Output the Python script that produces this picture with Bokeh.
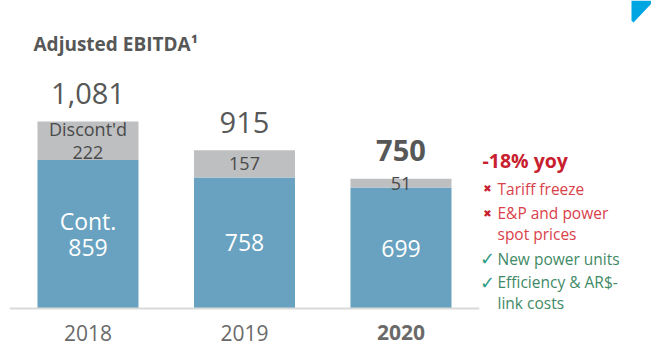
from bokeh.plotting import figure
from bokeh.models import ColumnDataSource, Range1d, Label, PolyAnnotation
from bokeh.core.properties import value
from bokeh.embed import file_html
from bokeh.resources import INLINE

# ---- data ----
years = ["2018", "2019", "2020"]
continuing = [859, 758, 699]
discontinued = [222, 157, 51]
totals = [1081, 915, 750]
cont_labels = ["Cont.\n859", "758", "699"]
disc_labels = ["Discont'd\n222", "157", "51"]
total_labels = ["1,081", "915", "750"]
year_styles = ["normal", "normal", "bold"]
total_styles = ["normal", "normal", "bold"]

FONT = "Open Sans"
BLUE = "#68A2C0"
GRAY = "#BEBFC1"
TXT = "#575757"
RED = "#C8202F"
RED_L = "#D9414B"
GREEN = "#3F8A66"

W, H = 651, 351
px_per_unit = 187.0 / 1081.0
y0_px = 308  # baseline pixel from top
y_start = -(H - y0_px) / px_per_unit
y_end = y0_px / px_per_unit

p = figure(width=W, height=H, output_backend="svg", toolbar_location=None,
           x_range=Range1d(-0.559, -0.559 + W / 156.5),
           y_range=Range1d(y_start, y_end),
           min_border=0, outline_line_color=None)
p.axis.visible = False
p.grid.visible = False
p.background_fill_color = "white"
p.border_fill_color = "white"

xs = list(range(len(years)))
src = ColumnDataSource(dict(
    x=xs, year=years, cont=continuing, disc=discontinued, total=totals,
    cont_mid=[c / 2 for c in continuing],
    disc_mid=[c + d / 2 for c, d in zip(continuing, discontinued)],
    cont_lab=cont_labels, disc_lab=disc_labels, tot_lab=total_labels,
    ystyle=year_styles, tstyle=total_styles,
    zero=[0] * len(years),
))

bw = 101 / 156.5
p.vbar(x="x", bottom="zero", top="cont", width=bw, source=src,
       fill_color=BLUE, line_color=None)
p.vbar(x="x", bottom="cont", top="total", width=bw, source=src,
       fill_color=GRAY, line_color=None)

# baseline
p.segment(x0=[-0.5], y0=[0], x1=[len(years) - 0.5], y1=[0],
          line_color="#DADADA", line_width=2)

# labels inside bars
p.text(x="x", y="cont_mid", text="cont_lab", source=src,
       text_font=value(FONT), text_font_size="23px", text_color="white",
       text_align="center", text_baseline="middle", text_line_height=0.81)
p.text(x="x", y="disc_mid", text="disc_lab", source=src,
       text_font=value(FONT), text_font_size="18px", text_color="#4A4A4A",
       text_align="center", text_baseline="middle", text_line_height=0.97)

# totals above bars
p.text(x="x", y="total", text="tot_lab", source=src, y_offset=-28,
       text_font=value(FONT), text_font_size="29px", text_color=TXT,
       text_font_style="tstyle",
       text_align="center", text_baseline="middle")

# year labels
p.text(x="x", y="zero", text="year", source=src, y_offset=24,
       text_font=value(FONT), text_font_size="21px", text_color="#6A6A6A",
       text_font_style="ystyle",
       text_align="center", text_baseline="middle")

# title
p.add_layout(Label(x=33, y=H - 43, x_units="screen", y_units="screen",
                   text="Adjusted EBITDA¹", text_font=FONT,
                   text_font_size="19px", text_font_style="bold",
                   text_color=TXT, text_baseline="middle"))

# right-hand commentary
p.add_layout(Label(x=482, y=H - 160, x_units="screen", y_units="screen",
                   text="-18% yoy", text_font=FONT, text_font_size="19.5px",
                   text_font_style="bold", text_color=RED,
                   text_baseline="middle"))

items = [
    ("✖", RED, RED_L, "Tariff freeze", 188),
    ("✖", RED, RED_L, "E&P and power\nspot prices", 223),
    ("✓", "#2E9C86", GREEN, "New power units", 258),
    ("✓", "#2E9C86", GREEN, "Efficiency & AR$-\nlink costs", 292),
]
for mark, mcol, tcol, txt, py in items:
    nlines = txt.count("\n") + 1
    top = py - (nlines - 1) * 10
    p.add_layout(Label(x=487, y=H - top, x_units="screen", y_units="screen",
                       text=mark, text_font="DejaVu Sans",
                       text_font_size="10px" if mark == "✖" else "18px",
                       text_font_style="normal" if mark == "✖" else "bold",
                       text_color=mcol, text_align="center",
                       text_baseline="middle"))
    p.add_layout(Label(x=497, y=H - py, x_units="screen", y_units="screen",
                       text=txt, text_font=FONT, text_font_size="15.5px",
                       text_color=tcol, text_baseline="middle",
                       text_line_height=0.95))

# corner decoration
p.add_layout(PolyAnnotation(
    xs=[631, 631, 633, 651, 651], ys=[H, H - 20, H - 22, H - 3, H],
    xs_units="screen", ys_units="screen",
    fill_color="#00A6E2", fill_alpha=1, line_color=None))

open("out.html", "w").write(file_html(p, INLINE))
